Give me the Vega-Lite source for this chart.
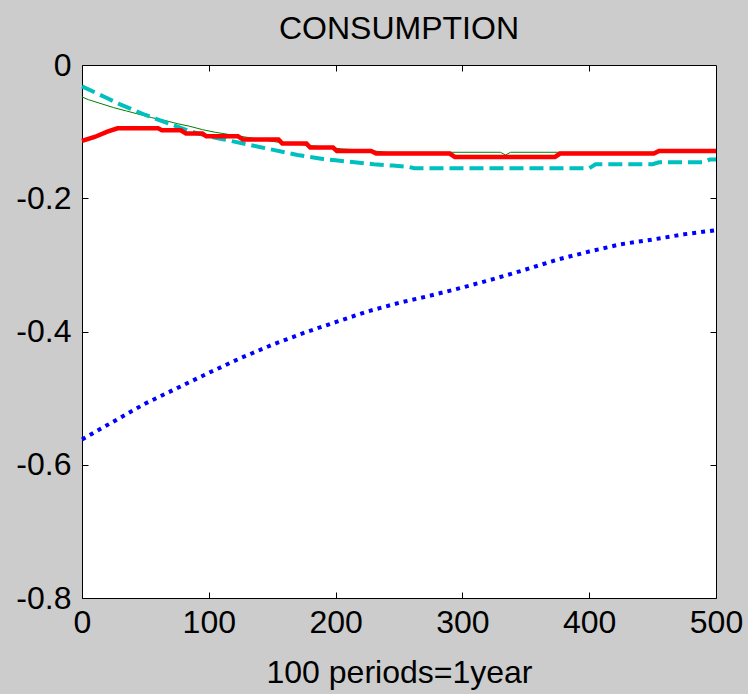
{
  "$schema": "https://vega.github.io/schema/vega-lite/v6.json",
  "width": 634,
  "height": 533,
  "autosize": {"type": "none"},
  "padding": {"left": 82, "top": 65, "right": 32, "bottom": 96},
  "background": "#cccccc",
  "view": {"fill": "white", "stroke": "black", "strokeWidth": 1},
  "title": {"text": "CONSUMPTION", "fontSize": 32, "font": "Liberation Sans", "fontWeight": "normal", "color": "black", "anchor": "middle", "offset": 3},
  "config": {
    "axis": {"grid": false, "domain": false, "tickColor": "black", "tickSize": -6, "labelFont": "Liberation Sans", "labelFontSize": 32, "labelColor": "black", "titleFont": "Liberation Sans", "titleFontSize": 32, "titleFontWeight": "normal", "titleColor": "black"}
  },
  "datasets": {
    "lines": [
      {"s": "green", "x": 0, "y": -0.048}, {"s": "green", "x": 5, "y": -0.052}, {"s": "green", "x": 15, "y": -0.058}, {"s": "green", "x": 25, "y": -0.064}, {"s": "green", "x": 35, "y": -0.069}, {"s": "green", "x": 45, "y": -0.074}, {"s": "green", "x": 55, "y": -0.079}, {"s": "green", "x": 65, "y": -0.083}, {"s": "green", "x": 75, "y": -0.088}, {"s": "green", "x": 85, "y": -0.092}, {"s": "green", "x": 95, "y": -0.097}, {"s": "green", "x": 105, "y": -0.101}, {"s": "green", "x": 115, "y": -0.104}, {"s": "green", "x": 125, "y": -0.107}, {"s": "green", "x": 135, "y": -0.110}, {"s": "green", "x": 145, "y": -0.113}, {"s": "green", "x": 155, "y": -0.116}, {"s": "green", "x": 165, "y": -0.118}, {"s": "green", "x": 175, "y": -0.120}, {"s": "green", "x": 185, "y": -0.122}, {"s": "green", "x": 195, "y": -0.124}, {"s": "green", "x": 205, "y": -0.126}, {"s": "green", "x": 215, "y": -0.127}, {"s": "green", "x": 230, "y": -0.129}, {"s": "green", "x": 240, "y": -0.131}, {"s": "green", "x": 330, "y": -0.131}, {"s": "green", "x": 334, "y": -0.135}, {"s": "green", "x": 338, "y": -0.131}, {"s": "green", "x": 452, "y": -0.131}, {"s": "green", "x": 455, "y": -0.127}, {"s": "green", "x": 500, "y": -0.127},
      {"s": "cyan", "x": 0, "y": -0.032}, {"s": "cyan", "x": 10, "y": -0.041}, {"s": "cyan", "x": 20, "y": -0.050}, {"s": "cyan", "x": 30, "y": -0.059}, {"s": "cyan", "x": 40, "y": -0.067}, {"s": "cyan", "x": 50, "y": -0.075}, {"s": "cyan", "x": 60, "y": -0.082}, {"s": "cyan", "x": 70, "y": -0.089}, {"s": "cyan", "x": 80, "y": -0.096}, {"s": "cyan", "x": 90, "y": -0.102}, {"s": "cyan", "x": 100, "y": -0.107}, {"s": "cyan", "x": 110, "y": -0.111}, {"s": "cyan", "x": 120, "y": -0.115}, {"s": "cyan", "x": 130, "y": -0.119}, {"s": "cyan", "x": 140, "y": -0.123}, {"s": "cyan", "x": 150, "y": -0.127}, {"s": "cyan", "x": 160, "y": -0.131}, {"s": "cyan", "x": 170, "y": -0.135}, {"s": "cyan", "x": 180, "y": -0.138}, {"s": "cyan", "x": 190, "y": -0.141}, {"s": "cyan", "x": 200, "y": -0.143}, {"s": "cyan", "x": 215, "y": -0.146}, {"s": "cyan", "x": 230, "y": -0.149}, {"s": "cyan", "x": 245, "y": -0.151}, {"s": "cyan", "x": 258, "y": -0.153}, {"s": "cyan", "x": 262, "y": -0.155}, {"s": "cyan", "x": 400, "y": -0.155}, {"s": "cyan", "x": 405, "y": -0.149}, {"s": "cyan", "x": 450, "y": -0.149}, {"s": "cyan", "x": 455, "y": -0.146}, {"s": "cyan", "x": 490, "y": -0.146}, {"s": "cyan", "x": 495, "y": -0.142}, {"s": "cyan", "x": 500, "y": -0.142},
      {"s": "red", "x": 0, "y": -0.114}, {"s": "red", "x": 10, "y": -0.108}, {"s": "red", "x": 20, "y": -0.100}, {"s": "red", "x": 28, "y": -0.095}, {"s": "red", "x": 60, "y": -0.095}, {"s": "red", "x": 63, "y": -0.098}, {"s": "red", "x": 78, "y": -0.098}, {"s": "red", "x": 82, "y": -0.103}, {"s": "red", "x": 95, "y": -0.103}, {"s": "red", "x": 98, "y": -0.107}, {"s": "red", "x": 123, "y": -0.107}, {"s": "red", "x": 127, "y": -0.112}, {"s": "red", "x": 155, "y": -0.112}, {"s": "red", "x": 158, "y": -0.118}, {"s": "red", "x": 177, "y": -0.118}, {"s": "red", "x": 180, "y": -0.124}, {"s": "red", "x": 198, "y": -0.124}, {"s": "red", "x": 201, "y": -0.129}, {"s": "red", "x": 228, "y": -0.129}, {"s": "red", "x": 232, "y": -0.133}, {"s": "red", "x": 290, "y": -0.133}, {"s": "red", "x": 294, "y": -0.138}, {"s": "red", "x": 373, "y": -0.138}, {"s": "red", "x": 377, "y": -0.133}, {"s": "red", "x": 451, "y": -0.133}, {"s": "red", "x": 455, "y": -0.129}, {"s": "red", "x": 500, "y": -0.129},
      {"s": "blue", "x": 0, "y": -0.562}, {"s": "blue", "x": 25, "y": -0.535}, {"s": "blue", "x": 50, "y": -0.508}, {"s": "blue", "x": 75, "y": -0.485}, {"s": "blue", "x": 100, "y": -0.462}, {"s": "blue", "x": 125, "y": -0.440}, {"s": "blue", "x": 150, "y": -0.420}, {"s": "blue", "x": 175, "y": -0.402}, {"s": "blue", "x": 200, "y": -0.386}, {"s": "blue", "x": 225, "y": -0.370}, {"s": "blue", "x": 250, "y": -0.357}, {"s": "blue", "x": 275, "y": -0.346}, {"s": "blue", "x": 300, "y": -0.334}, {"s": "blue", "x": 325, "y": -0.321}, {"s": "blue", "x": 350, "y": -0.307}, {"s": "blue", "x": 375, "y": -0.292}, {"s": "blue", "x": 400, "y": -0.280}, {"s": "blue", "x": 425, "y": -0.269}, {"s": "blue", "x": 450, "y": -0.262}, {"s": "blue", "x": 475, "y": -0.254}, {"s": "blue", "x": 500, "y": -0.248}
    ]
  },
  "data": {"name": "lines"},
  "resolve": {"axis": {"x": "independent", "y": "independent"}},
  "layer": [
    {
      "transform": [{"filter": "datum.s == 'green'"}],
      "mark": {"type": "line", "color": "#008000", "strokeWidth": 1},
      "encoding": {
        "x": {"field": "x", "type": "quantitative", "scale": {"domain": [0, 500], "nice": false, "zero": false},
              "axis": {"orient": "bottom", "values": [0, 100, 200, 300, 400, 500], "title": "100 periods=1year", "labelPadding": 15, "titlePadding": 19, "labelFlush": false, "labelOverlap": false}},
        "y": {"field": "y", "type": "quantitative", "scale": {"domain": [-0.8, 0], "nice": false, "zero": false},
              "axis": {"orient": "left", "values": [0, -0.2, -0.4, -0.6, -0.8], "title": null, "labelPadding": 17, "labelFlush": false, "labelOverlap": false,
                       "labelExpr": "datum.value == 0 ? '0' : replace(format(datum.value, '.1f'), '\u2212', '-')"}}
      }
    },
    {
      "transform": [{"filter": "datum.s == 'cyan'"}],
      "mark": {"type": "line", "color": "#00bfbf", "strokeWidth": 4, "strokeDash": [14, 6]},
      "encoding": {
        "x": {"field": "x", "type": "quantitative", "axis": {"orient": "top", "values": [100, 200, 300, 400], "labels": false, "title": null}},
        "y": {"field": "y", "type": "quantitative", "axis": {"orient": "right", "values": [-0.2, -0.4, -0.6], "labels": false, "title": null}}
      }
    },
    {
      "transform": [{"filter": "datum.s == 'red'"}],
      "mark": {"type": "line", "color": "#ff0000", "strokeWidth": 4.5},
      "encoding": {
        "x": {"field": "x", "type": "quantitative", "axis": null},
        "y": {"field": "y", "type": "quantitative", "axis": null}
      }
    },
    {
      "transform": [{"filter": "datum.s == 'blue'"}],
      "mark": {"type": "line", "color": "#0000ff", "strokeWidth": 4, "strokeDash": [4, 5]},
      "encoding": {
        "x": {"field": "x", "type": "quantitative", "axis": null},
        "y": {"field": "y", "type": "quantitative", "axis": null}
      }
    }
  ]
}
